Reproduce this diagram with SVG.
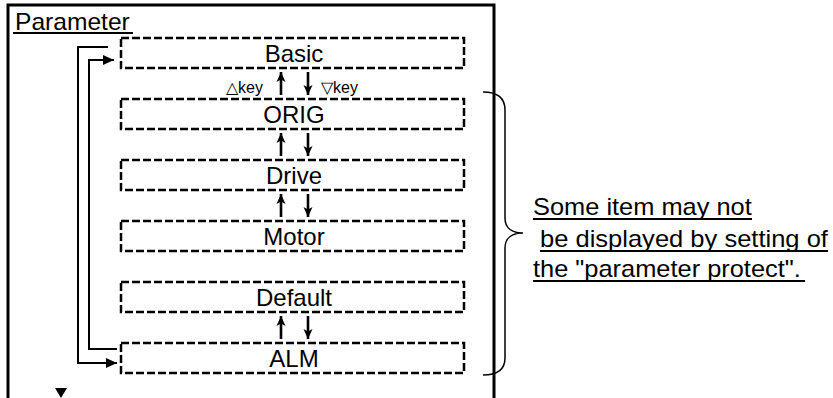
<svg xmlns="http://www.w3.org/2000/svg" width="833" height="398" viewBox="0 0 833 398">
<style>
  .t{font-family:"Liberation Sans",Arial,sans-serif;fill:#000}
  .box{fill:#fff;stroke:#000;stroke-width:2.5;stroke-dasharray:8 3}
  .lbl{font-size:24px;text-anchor:middle}
  .ln{fill:none;stroke:#000;stroke-width:2}
  .ul{stroke:#000;stroke-width:1.8}
  .ud{fill:none;stroke:#000;stroke-width:2.6}
  .note{font-size:23px}
</style>
<defs>
  <marker id="ah" markerWidth="12" markerHeight="10" refX="11" refY="5" orient="auto" markerUnits="userSpaceOnUse">
    <path d="M0,0 L11,5 L0,10 Z" fill="#000"/>
  </marker>
  <marker id="sh" markerWidth="11" markerHeight="10" refX="10" refY="5" orient="auto" markerUnits="userSpaceOnUse">
    <path d="M0,0.5 L10,5 L0,9.5 L2.5,5 Z" fill="#000"/>
  </marker>
</defs>
<rect width="833" height="398" fill="#fff"/>
<g id="frame">
  <path d="M8,400 V5 H494 V400" fill="none" stroke="#000" stroke-width="3"/>
  <text class="t" transform="translate(15,30) scale(1.07,1)" font-size="23">Parameter</text>
  <line class="ul" x1="13" y1="33" x2="133" y2="33"/>
</g>
<g id="connectors">
  <path class="ln" d="M108,47 H78 V363 H117" marker-end="url(#ah)"/>
  <path class="ln" d="M117,349 H89 V60 H114" marker-end="url(#ah)"/>
  <line class="ud" x1="281" y1="95" x2="281" y2="72" marker-end="url(#sh)"/>
  <line class="ud" x1="308" y1="72" x2="308" y2="95" marker-end="url(#sh)"/>
  <line class="ud" x1="281" y1="156" x2="281" y2="133" marker-end="url(#sh)"/>
  <line class="ud" x1="308" y1="133" x2="308" y2="156" marker-end="url(#sh)"/>
  <line class="ud" x1="281" y1="217" x2="281" y2="194" marker-end="url(#sh)"/>
  <line class="ud" x1="308" y1="194" x2="308" y2="217" marker-end="url(#sh)"/>
  <line class="ud" x1="281" y1="339" x2="281" y2="316" marker-end="url(#sh)"/>
  <line class="ud" x1="308" y1="316" x2="308" y2="339" marker-end="url(#sh)"/>
  <text class="t" x="226" y="93" font-size="16">△key</text>
  <text class="t" x="321" y="93" font-size="16">▽key</text>
  <polygon points="55,388 67,388 61,398" fill="#000"/>
</g>
<g id="basic"><rect class="box" x="121" y="38" width="343" height="30"/><text class="t lbl" x="294" y="62">Basic</text></g>
<g id="orig"><rect class="box" x="121" y="99" width="343" height="30"/><text class="t lbl" x="294" y="123">ORIG</text></g>
<g id="drive"><rect class="box" x="121" y="160" width="343" height="30"/><text class="t lbl" x="294" y="184">Drive</text></g>
<g id="motor"><rect class="box" x="121" y="221" width="343" height="30"/><text class="t lbl" x="294" y="245">Motor</text></g>
<g id="default"><rect class="box" x="121" y="282" width="343" height="30"/><text class="t lbl" x="294" y="306">Default</text></g>
<g id="alm"><rect class="box" x="121" y="343" width="343" height="30"/><text class="t lbl" x="294" y="367">ALM</text></g>
<g id="note">
  <path d="M483,92 C497,92 505,98 505,110 V218 C505,228 512,233 523,233 C512,233 505,238 505,248 V358 C505,370 497,375 483,375" fill="none" stroke="#000" stroke-width="1.5"/>
  <text class="t note" transform="translate(533,215) scale(1.105,1)">Some item may not</text>
  <line class="ul" x1="533" y1="219" x2="752" y2="219"/>
  <text class="t note" transform="translate(540,247) scale(1.11,1)">be displayed by setting of</text>
  <line class="ul" x1="540" y1="251" x2="828" y2="251"/>
  <text class="t note" transform="translate(533,277) scale(1.105,1)">the "parameter protect".</text>
  <line class="ul" x1="533" y1="281" x2="805" y2="281"/>
</g>
</svg>
